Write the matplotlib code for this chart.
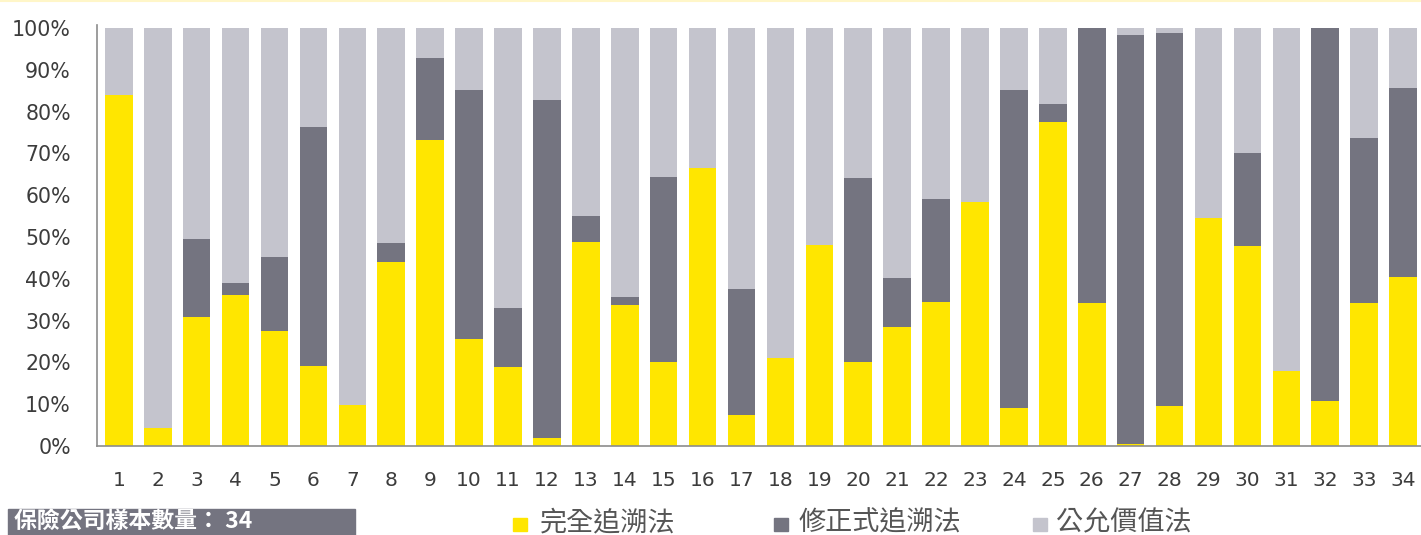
import matplotlib.pyplot as plt
from matplotlib.patches import Rectangle
from matplotlib.lines import Line2D
import numpy as np

# Porcentaje de cada método por compañía (1..34)
empresas = [str(i) for i in range(1, 35)]
completo = [84.0, 4.2, 30.9, 36.1, 27.5, 19.2, 9.8, 44.1, 73.2, 25.5, 19.0, 1.8,
            48.7, 33.7, 20.0, 66.6, 7.4, 21.0, 48.1, 20.0, 28.4, 34.5, 58.3, 9.2,
            77.6, 34.3, 0.5, 9.6, 54.5, 47.9, 17.9, 10.8, 34.1, 40.5]
modificado = [0.0, 0.0, 18.6, 3.0, 17.8, 57.0, 0.0, 4.5, 19.5, 59.7, 13.9, 81.0,
              6.4, 2.0, 44.4, 0.0, 30.1, 0.0, 0.0, 44.2, 11.7, 24.6, 0.0, 76.0,
              4.1, 65.7, 97.8, 89.3, 0.0, 22.1, 0.0, 89.2, 39.5, 45.2]
razonable = [16.0, 95.8, 50.5, 60.9, 54.7, 23.8, 90.2, 51.4, 7.3, 14.8, 67.1, 17.2,
             44.9, 64.3, 35.6, 33.4, 62.5, 79.0, 51.9, 35.8, 59.9, 40.9, 41.7, 14.8,
             18.3, 0.0, 1.7, 1.1, 45.5, 30.0, 82.1, 0.0, 26.4, 14.3]
series = ["完全追溯法", "修正式追溯法", "公允價值法"]
yticks = [0, 10, 20, 30, 40, 50, 60, 70, 80, 90, 100]

colores = ["#FFE600", "#747480", "#C4C4CD"]
cjk = ["Noto Sans CJK TC", "DejaVu Sans"]

fig = plt.figure(figsize=(14.21, 5.35), dpi=100)
ax = fig.add_axes([97.3 / 1421, 1 - 446 / 535, 1 - 97.3 / 1421, (446 - 25) / 535])

x = np.arange(1, 35)
c = np.array(completo)
m = np.array(modificado)
r = np.array(razonable)
ax.bar(x, c, width=0.71, color=colores[0])
ax.bar(x, m, width=0.71, bottom=c, color=colores[1])
ax.bar(x, r, width=0.71, bottom=c + m, color=colores[2])

ax.set_xlim(0.447, 34.46)
ax.set_ylim(0, 100.7)
ax.set_xticks(x)
ax.set_xticklabels(empresas)
ax.set_yticks(yticks)
ax.set_yticklabels([f"{v}%" for v in yticks])
ax.tick_params(axis="x", length=0, pad=18, labelsize=14.5, labelcolor="#3c3c3c")
ax.tick_params(axis="y", length=0, pad=19, labelsize=14.8, labelcolor="#3c3c3c")
for s in ["top", "right"]:
    ax.spines[s].set_visible(False)
for s in ["left", "bottom"]:
    ax.spines[s].set_color("#8c8c8c")
    ax.spines[s].set_linewidth(1.2)

# línea amarilla tenue arriba
fig.add_artist(Line2D([0, 1], [0.999, 0.999], color="#FFF6C8", lw=1.5,
                      transform=fig.transFigure))

# leyenda manual
W, H = 1421, 535
for xs, xt, col, lab in zip([513, 774, 1033], [540, 799, 1056], colores, series):
    fig.add_artist(Rectangle((xs / W, 1 - 531 / H), 14 / W, 13 / H,
                             color=col, transform=fig.transFigure))
    fig.text(xt / W, 1 - 523 / H, lab, fontsize=19.5, color="#555555",
             family=cjk, va="center", ha="left")

# recuadro con el número de muestras
fig.add_artist(Rectangle((8 / W, -0.05), (355 - 8) / W, 0.05 + (535 - 509) / H,
                         color="#747480", transform=fig.transFigure))
fig.text(14 / W, 1 - 521 / H, "保險公司樣本數量： 34", fontsize=16.5, color="white",
         family=cjk, weight="bold", va="center", ha="left")

plt.savefig("out.png", dpi=100)
